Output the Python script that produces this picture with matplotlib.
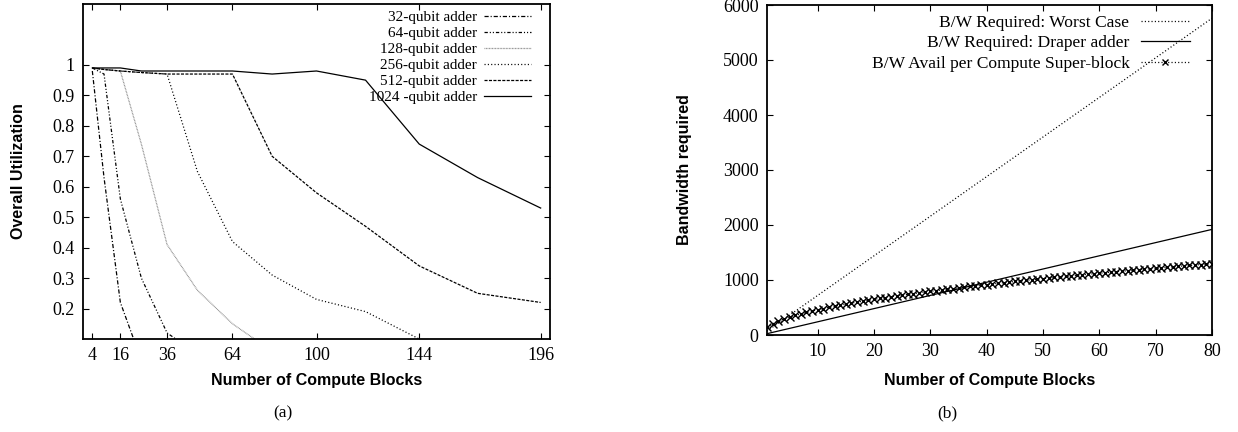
import matplotlib
matplotlib.use("Agg")
import matplotlib.pyplot as plt

# ---------------- data: panel (a) ----------------
blocks = [4, 9, 16, 25, 36, 49, 64, 81, 100, 121, 144, 169, 196]
xticks_a = [4, 16, 36, 64, 100, 144, 196]
yticks_a = [0.2, 0.3, 0.4, 0.5, 0.6, 0.7, 0.8, 0.9, 1.0]
ytick_labels_a = ["0.2", "0.3", "0.4", "0.5", "0.6", "0.7", "0.8", "0.9", "1"]

util_32 = [0.98, 0.63, 0.22, 0.03]
util_64 = [0.99, 0.97, 0.56, 0.30, 0.12, 0.05]
util_128 = [0.99, 0.985, 0.98, 0.74, 0.41, 0.26, 0.15, 0.06]
util_256 = [0.99, 0.985, 0.98, 0.975, 0.97, 0.65, 0.42, 0.31, 0.23, 0.19, 0.10]
util_512 = [0.99, 0.985, 0.98, 0.975, 0.97, 0.97, 0.97, 0.70, 0.58, 0.47, 0.34, 0.25, 0.22]
util_1024 = [0.99, 0.99, 0.99, 0.98, 0.98, 0.98, 0.98, 0.97, 0.98, 0.95, 0.74, 0.63, 0.53]
labels_a = ["32-qubit adder", "64-qubit adder", "128-qubit adder",
            "256-qubit adder", "512-qubit adder", "1024 -qubit adder"]

# ---------------- data: panel (b) ----------------
worst_x = [1, 80]
worst_y = [72, 5760]
draper_x = [1, 80]
draper_y = [24, 1920]
avail_x = list(range(1, 81))
avail_y = [145, 205, 251, 290, 324, 355, 384, 410, 435, 459,
           481, 502, 523, 543, 562, 580, 598, 615, 632, 648,
           664, 680, 695, 710, 725, 739, 753, 767, 781, 794,
           807, 820, 833, 845, 858, 870, 882, 894, 906, 917,
           928, 940, 951, 962, 973, 983, 994, 1005, 1015, 1025,
           1036, 1046, 1056, 1066, 1075, 1085, 1095, 1104, 1114, 1123,
           1132, 1142, 1151, 1160, 1169, 1178, 1187, 1196, 1204, 1213,
           1222, 1230, 1239, 1247, 1256, 1264, 1272, 1281, 1289, 1297]
xticks_b = [10, 20, 30, 40, 50, 60, 70, 80]
yticks_b = [0, 1000, 2000, 3000, 4000, 5000, 6000]
labels_b = ["B/W Required: Worst Case", "B/W Required: Draper adder",
            "B/W Avail per Compute Super-block"]

plt.rcParams["lines.scale_dashes"] = False
SERIF = "Liberation Serif"
SANS = "Liberation Sans"

fig = plt.figure(figsize=(12.38, 4.32), dpi=100)
W, H = 1238, 432

def px_axes(l, t, r, b):
    return fig.add_axes([l / W, 1 - b / H, (r - l) / W, (b - t) / H])

ax1 = px_axes(83, 4, 550, 339)
ax2 = px_axes(767, 5, 1212, 335)

lw = 0.9
styles_a = [
    dict(color="black", dashes=(3.0, 1.4, 0.8, 1.4)),
    dict(color="black", dashes=(2.4, 1.4, 0.8, 1.4, 0.8, 1.4)),
    dict(color="#888888", dashes=(0.6, 0.5)),
    dict(color="black", dashes=(0.8, 1.6)),
    dict(color="black", dashes=(2.2, 1.0)),
    dict(color="black"),
]
series_a = [util_32, util_64, util_128, util_256, util_512, util_1024]
for vals, lab, st in zip(series_a, labels_a, styles_a):
    ax1.plot(blocks[:len(vals)], vals, lw=lw, label=lab, **st)

ax1.set_xlim(0, 200)
ax1.set_ylim(0.1, 1.2)
ax1.set_xticks(xticks_a)
ax1.set_xticklabels([str(v) for v in xticks_a])
ax1.set_yticks(yticks_a)
ax1.set_yticklabels(ytick_labels_a)

ax2.plot(worst_x, worst_y, color="black", lw=lw, dashes=(0.8, 1.6), label=labels_b[0])
ax2.plot(draper_x, draper_y, color="black", lw=lw, label=labels_b[1])
ax2.plot(avail_x, avail_y, color="black", lw=lw, dashes=(0.8, 1.6), marker="x",
         markersize=5.5, markeredgewidth=1.0, label=labels_b[2])
ax2.set_xlim(1, 80)
ax2.set_ylim(0, 6000)
ax2.set_xticks(xticks_b)
ax2.set_yticks(yticks_b)

for ax in (ax1, ax2):
    for s in ax.spines.values():
        s.set_linewidth(1.3)
    ax.tick_params(direction="in", top=True, right=True, length=4.5, width=0.8,
                   labelsize=13, pad=6)
    for lab in ax.get_xticklabels() + ax.get_yticklabels():
        lab.set_family(SERIF)

lab_kw = dict(fontfamily=SANS, fontweight="bold", fontsize=11.5)
ax1.set_xlabel("Number of Compute Blocks", **lab_kw)
ax1.set_ylabel("Overall Utilization", **lab_kw)
ax2.set_xlabel("Number of Compute Blocks", **lab_kw)
ax2.set_ylabel("Bandwidth required", **lab_kw)
ax1.xaxis.set_label_coords(0.5, (339 - 380) / 335)
ax1.xaxis.label.set_va("center")
ax2.xaxis.set_label_coords(0.5, (335 - 380) / 330)
ax2.xaxis.label.set_va("center")
ax1.yaxis.set_label_coords((19 - 83) / 467, 0.5)
ax1.yaxis.label.set_va("center")
ax2.yaxis.set_label_coords((685 - 767) / 445, 0.5)
ax2.yaxis.label.set_va("center")

leg1 = ax1.legend(loc="upper right", frameon=False, markerfirst=False,
                  prop={"family": SERIF, "size": 11}, handlelength=3.1,
                  handletextpad=0.45, labelspacing=0.15, borderaxespad=0.0,
                  borderpad=0.2, bbox_to_anchor=(1 - 15.5 / 467, 1 - 3.5 / 335))
leg2 = ax2.legend(loc="upper right", frameon=False, markerfirst=False,
                  prop={"family": SERIF, "size": 12.6}, handlelength=2.75,
                  handletextpad=0.68, labelspacing=0.25, borderaxespad=0.0,
                  borderpad=0.2, markerscale=0.9, numpoints=1,
                  bbox_to_anchor=(1 - 19 / 445, 1 - 6 / 330))
for leg in (leg1, leg2):
    for t in leg.get_texts():
        t.set_ha("right")
    leg._legend_box.align = "right"

fig.text(283 / W, 1 - 413 / H, "(a)", ha="center", va="center", family=SERIF, fontsize=12.5)
fig.text(947 / W, 1 - 413 / H, "(b)", ha="center", va="center", family=SERIF, fontsize=12.5)

fig.savefig("out.png", dpi=100)
